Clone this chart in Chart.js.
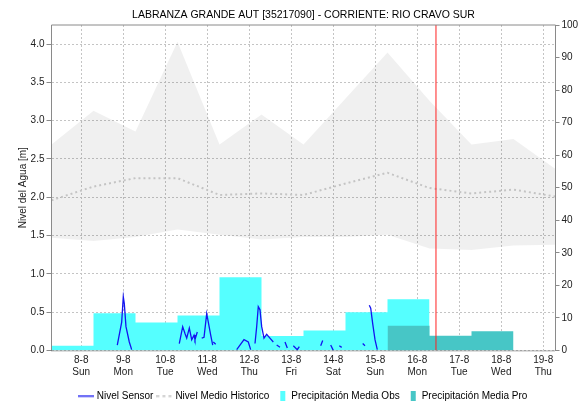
<!DOCTYPE html>
<html>
<head>
<meta charset="utf-8">
<script src="https://cdn.jsdelivr.net/npm/chart.js@4.4.0/dist/chart.umd.min.js"></script>
<style>
  html, body { margin: 0; padding: 0; background: #fff; }
</style>
</head>
<body>
<canvas id="chart" width="579" height="403"></canvas>
<script>
// x is measured in days from 7-8 00:00 (8-8 = 1 ... 19-8 = 12)
const tickDays = [1, 2, 3, 4, 5, 6, 7, 8, 9, 10, 11, 12];
const tickDates = ["8-8", "9-8", "10-8", "11-8", "12-8", "13-8", "14-8", "15-8", "16-8", "17-8", "18-8", "19-8"];
const tickWeekdays = ["Sun", "Mon", "Tue", "Wed", "Thu", "Fri", "Sat", "Sun", "Mon", "Tue", "Wed", "Thu"];

// daily periods start at 07:00
const dayStartHour = 7;

// historic band (max / mean / min) at each 07:00 boundary
const histDays = [0, 1, 2, 3, 4, 5, 6, 7, 8, 9, 10, 11, 12];
const histMax = [2.69, 3.13, 2.86, 4.03, 2.69, 3.08, 2.69, 3.29, 3.89, 3.26, 2.69, 2.76, 2.37];
const histMean = [1.96, 2.14, 2.25, 2.25, 2.03, 2.05, 2.03, 2.18, 2.32, 2.12, 2.05, 2.10, 2.01];
const histMin = [1.47, 1.43, 1.48, 1.58, 1.51, 1.45, 1.48, 1.48, 1.51, 1.33, 1.31, 1.37, 1.38];

// daily precipitation [mm]
const obsPeriods = [0, 1, 2, 3, 4, 5, 6, 7, 8];
const obsPrecip = [1.4, 11.4, 8.6, 10.7, 22.5, 4.4, 6.1, 11.7, 15.7];
const proPeriods = [8, 9, 10];
const proPrecip = [7.6, 4.5, 5.9];

// sensor level [m], null = no reading
const sensorTime = [1.858, 1.963, 2.001, 2.025, 2.065, 2.144, 2.201, 2.25,
  3.334, 3.415, 3.470, 3.511, 3.573, 3.630, 3.685, 3.708, 3.763, 3.80,
  3.868, 3.923, 3.987, 4.025, 4.082, 4.130, 4.137,
  4.144, 4.201, 4.30,
  4.701, 4.875, 4.977, 5.034, 5.08,
  5.137, 5.177, 5.215, 5.256, 5.296, 5.351, 5.415, 5.477, 5.573, 5.61,
  5.653, 5.732, 5.79,
  5.851, 5.906, 5.95,
  6.049, 6.144, 6.192, 6.40,
  6.701, 6.749, 6.80,
  6.939, 7.001, 7.05,
  7.144, 7.201, 7.40,
  7.701, 7.756, 7.80,
  7.858, 7.892, 7.939, 7.994, 8.049];
const sensorLevel = [0.07, 0.37, 0.70, 0.61, 0.31, 0.11, 0.01, null,
  0.09, 0.31, 0.22, 0.16, 0.29, 0.14, 0.20, 0.14, 0.24, null,
  0.16, 0.17, 0.48, 0.37, 0.20, 0.07, null,
  0.11, 0.08, null,
  0.01, 0.14, 0.11, 0.01, null,
  0.09, 0.31, 0.57, 0.53, 0.31, 0.16, 0.21, 0.17, 0.11, null,
  0.07, 0.04, null,
  0.11, 0.03, null,
  0.06, 0.01, 0.05, null,
  0.06, 0.13, null,
  0.07, 0.00, null,
  0.06, 0.04, null,
  0.09, 0.06, null,
  0.59, 0.55, 0.35, 0.14, 0.01];

// current time marker (16-8 ~10:45)
const nowDay = 9.446;

const levelMax = 4.25;
const precipMax = 100;

const hourOffset = dayStartHour / 24;
const xMin = hourOffset;
const xMax = 12 + hourOffset;

function stepPoints(periods, values) {
  const pts = periods.map((p, i) => ({ x: p + hourOffset, y: values[i] }));
  pts.push({ x: periods[periods.length - 1] + 1 + hourOffset, y: 0 });
  return pts;
}
const histPoints = arr => histDays.map((d, i) => ({ x: d + hourOffset, y: arr[i] }));

const colObs = "#55ffff";
const colPro = "#47c6c6";
const colSensor = "#1414f0";
const colMean = "#c4c4c4";

function symbol(w, h, draw) {
  const c = document.createElement("canvas");
  c.width = w; c.height = h;
  draw(c.getContext("2d"));
  return c;
}
const symSensor = symbol(16, 3, g => {
  g.strokeStyle = colSensor; g.lineWidth = 1.4;
  g.beginPath(); g.moveTo(0, 1.5); g.lineTo(16, 1.5); g.stroke();
});
const symMean = symbol(16, 3, g => {
  g.strokeStyle = "#bcbcbc"; g.lineWidth = 1.5; g.setLineDash([3, 3]);
  g.beginPath(); g.moveTo(0, 1.5); g.lineTo(16, 1.5); g.stroke();
});
const symObs = symbol(12, 10, g => { g.fillStyle = colObs; g.fillRect(6, 0, 5, 10); });
const symPro = symbol(12, 10, g => { g.fillStyle = colPro; g.fillRect(6, 0, 5, 10); });

// plot frame: solid top/left/right, dotted bottom drawn over the bars
const framePlugin = {
  id: "frame",
  afterDatasetsDraw(chart) {
    const { ctx, chartArea: a } = chart;
    ctx.save();
    ctx.lineWidth = 1;
    ctx.strokeStyle = "#8a8a8a";
    ctx.beginPath();
    ctx.moveTo(a.left, a.bottom); ctx.lineTo(a.left, a.top);
    ctx.lineTo(a.right, a.top); ctx.lineTo(a.right, a.bottom);
    ctx.stroke();
    ctx.strokeStyle = "#555";
    ctx.setLineDash([1, 1]);
    ctx.beginPath();
    ctx.moveTo(a.left, a.bottom + 0.5); ctx.lineTo(a.right, a.bottom + 0.5);
    ctx.stroke();
    ctx.restore();
  }
};

Chart.defaults.font.family = "'Liberation Sans', Arial, sans-serif";
Chart.defaults.font.size = 10;
Chart.defaults.color = "#222";

new Chart(document.getElementById("chart"), {
  type: "line",
  data: {
    datasets: [
      {
        label: "Nivel Sensor",
        data: sensorTime.map((t, i) => ({ x: t, y: sensorLevel[i] })),
        borderColor: colSensor, borderWidth: 1.3, pointRadius: 0,
        spanGaps: false, yAxisID: "y", order: 1
      },
      {
        label: "Nivel Medio Historico",
        data: histPoints(histMean),
        borderColor: colMean, borderWidth: 2, borderDash: [2, 3],
        pointRadius: 0, yAxisID: "y", order: 4
      },
      {
        label: "Precipitación Media Obs",
        data: stepPoints(obsPeriods, obsPrecip),
        stepped: "before", fill: "origin",
        backgroundColor: colObs, borderWidth: 0, pointRadius: 0,
        yAxisID: "yR", order: 3
      },
      {
        label: "Precipitación Media Pro",
        data: stepPoints(proPeriods, proPrecip),
        stepped: "before", fill: "origin",
        backgroundColor: colPro, borderWidth: 0, pointRadius: 0,
        yAxisID: "yR", order: 2
      },
      {
        label: "now",
        data: [{ x: nowDay, y: 0 }, { x: nowDay, y: levelMax }],
        borderColor: "#ff2020", borderWidth: 1, pointRadius: 0,
        yAxisID: "y", order: 0
      },
      {
        label: "hist max",
        data: histPoints(histMax),
        borderWidth: 0, pointRadius: 0, fill: "+1",
        backgroundColor: "rgba(0,0,0,0.06)", yAxisID: "y", order: 5
      },
      {
        label: "hist min",
        data: histPoints(histMin),
        borderWidth: 0, pointRadius: 0, yAxisID: "y", order: 6
      }
    ]
  },
  options: {
    responsive: false,
    devicePixelRatio: 1,
    animation: false,
    layout: { padding: { top: 0, left: 0, right: 0, bottom: -8 } },
    plugins: {
      tooltip: { enabled: false },
      title: {
        display: true,
        text: "LABRANZA GRANDE AUT [35217090] - CORRIENTE: RIO CRAVO SUR",
        fullSize: false,
        color: "#000",
        font: { size: 10.5, weight: "normal" },
        padding: { top: 9, bottom: 3.4 }
      },
      legend: {
        position: "bottom",
        fullSize: false,
        labels: {
          usePointStyle: true,
          pointStyleWidth: 12,
          padding: 5,
          color: "#000",
          font: { size: 10 },
          generateLabels: () => [
            { text: "Nivel Sensor", pointStyle: symSensor, datasetIndex: 0 },
            { text: "Nivel Medio Historico", pointStyle: symMean, datasetIndex: 1 },
            { text: "Precipitación Media Obs", pointStyle: symObs, datasetIndex: 2 },
            { text: "Precipitación Media Pro", pointStyle: symPro, datasetIndex: 3 }
          ].map(it => Object.assign(it, { fontColor: "#000", hidden: false, lineWidth: 0 }))
        }
      }
    },
    scales: {
      x: {
        type: "linear",
        min: xMin,
        max: xMax,
        afterBuildTicks: axis => { axis.ticks = tickDays.map(v => ({ value: v })); },
        afterFit: axis => { axis.height = 35.6; },
        ticks: {
          padding: 4,
          maxRotation: 0,
          autoSkip: false,
          callback: value => {
            const i = tickDays.indexOf(value);
            return [tickDates[i], tickWeekdays[i]];
          }
        },
        grid: { color: "#c4c4c4", drawTicks: false },
        border: { display: false, dash: [2, 2] }
      },
      y: {
        position: "left",
        min: 0,
        max: levelMax,
        afterFit: axis => { axis.width = 51.5; },
        ticks: {
          stepSize: 0.5,
          includeBounds: false,
          padding: 2,
          callback: v => v.toFixed(1)
        },
        grid: { color: "#c4c4c4", tickLength: 5, tickColor: "#8a8a8a", tickBorderDash: [] },
        border: { display: true, color: "#8a8a8a", dash: [2, 2] },
        title: {
          display: true,
          text: "Nivel del Agua [m]",
          font: { size: 10 },
          padding: { top: 17, bottom: 0 }
        }
      },
      yR: {
        position: "right",
        min: 0,
        max: precipMax,
        afterFit: axis => { axis.width = 23.5; },
        ticks: { stepSize: 10, padding: 2 },
        grid: { drawOnChartArea: false, tickLength: 4, tickColor: "#8a8a8a" },
        border: { display: true, color: "#8a8a8a" }
      }
    }
  },
  plugins: [framePlugin]
});
</script>
</body>
</html>
